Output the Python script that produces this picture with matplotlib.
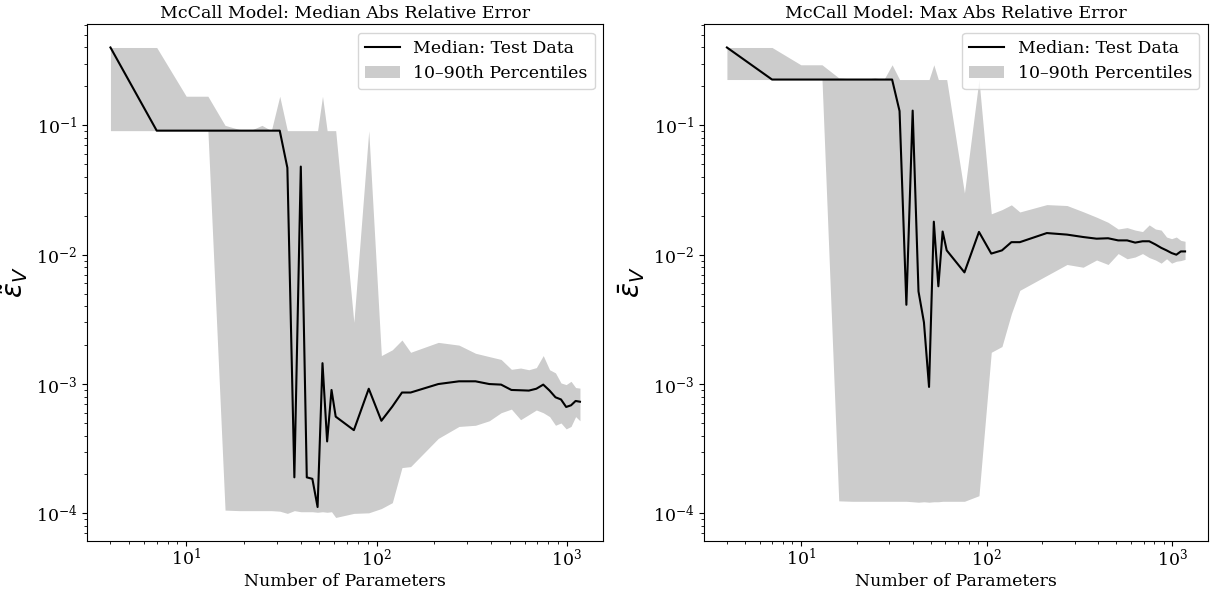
import matplotlib
matplotlib.use("Agg")
import matplotlib.pyplot as plt

plt.rcParams['font.family'] = 'DejaVu Serif'
plt.rcParams['font.size'] = 12.5

# number of parameters
n_params = [4, 7, 10, 13, 16, 19, 22, 25, 28, 31, 34, 37, 40, 43, 46, 49, 52, 55, 58, 61,
            76, 91, 106, 121, 136, 151,
            211, 271, 331, 391, 451, 511, 571, 631, 691, 751, 811, 871, 931, 991, 1051, 1111, 1171]

# median abs relative error
med_median = [0.4, 0.091, 0.091, 0.091, 0.091, 0.091, 0.091, 0.091, 0.091, 0.091,
              0.047, 1.9e-4, 0.048, 1.9e-4, 1.85e-4, 1.12e-4, 1.45e-3, 3.6e-4, 9.0e-4, 5.6e-4,
              4.4e-4, 9.2e-4, 5.2e-4, 6.7e-4, 8.6e-4, 8.6e-4,
              1.0e-3, 1.05e-3, 1.05e-3, 1.0e-3, 9.9e-4, 9.0e-4, 8.95e-4, 8.9e-4, 9.2e-4, 9.9e-4,
              8.9e-4, 7.9e-4, 7.6e-4, 6.65e-4, 6.85e-4, 7.4e-4, 7.3e-4]
med_p10 = [0.091, 0.091, 0.091, 0.091, 1.06e-4, 1.05e-4, 1.05e-4, 1.05e-4, 1.05e-4, 1.04e-4,
           1.0e-4, 1.05e-4, 1.03e-4, 1.03e-4, 1.03e-4, 1.02e-4, 1.03e-4, 1.02e-4, 1.03e-4, 9.3e-5,
           1.0e-4, 1.01e-4, 1.09e-4, 1.21e-4, 2.26e-4, 2.3e-4,
           3.8e-4, 4.7e-4, 4.8e-4, 5.2e-4, 6.0e-4, 6.4e-4, 5.3e-4, 5.8e-4, 6.3e-4, 6.0e-4,
           5.6e-4, 4.8e-4, 5.0e-4, 4.5e-4, 4.7e-4, 5.6e-4, 5.2e-4]
med_p90 = [0.4, 0.4, 0.168, 0.168, 0.1, 0.093, 0.092, 0.1, 0.091, 0.168,
           0.091, 0.091, 0.091, 0.091, 0.091, 0.091, 0.168, 0.091, 0.091, 0.091,
           3.0e-3, 0.091, 1.66e-3, 1.84e-3, 2.19e-3, 1.76e-3,
           2.1e-3, 2.0e-3, 1.73e-3, 1.63e-3, 1.55e-3, 1.3e-3, 1.33e-3, 1.29e-3, 1.34e-3, 1.66e-3,
           1.29e-3, 1.22e-3, 1.02e-3, 9.9e-4, 1.05e-3, 9.4e-4, 9.3e-4]

# max abs relative error
max_median = [0.4, 0.226, 0.226, 0.226, 0.226, 0.226, 0.226, 0.226, 0.226, 0.226,
              0.129, 4.1e-3, 0.13, 5.2e-3, 3.0e-3, 9.5e-4, 0.018, 5.7e-3, 0.0151, 0.0108,
              7.3e-3, 0.015, 0.0102, 0.0108, 0.0125, 0.0125,
              0.0147, 0.0143, 0.0137, 0.0133, 0.0134, 0.0129, 0.0129, 0.0124, 0.0127, 0.0127,
              0.012, 0.0113, 0.0108, 0.0103, 0.0100, 0.0106, 0.0106]
max_p10 = [0.226, 0.226, 0.226, 0.226, 1.25e-4, 1.24e-4, 1.24e-4, 1.24e-4, 1.24e-4, 1.24e-4,
           1.24e-4, 1.24e-4, 1.23e-4, 1.22e-4, 1.23e-4, 1.22e-4, 1.23e-4, 1.23e-4, 1.24e-4, 1.24e-4,
           1.24e-4, 1.37e-4, 1.76e-3, 1.95e-3, 3.5e-3, 5.3e-3,
           6.9e-3, 8.4e-3, 8.0e-3, 9.1e-3, 8.4e-3, 1.02e-2, 9.3e-3, 9.6e-3, 1.02e-2, 9.5e-3,
           9.1e-3, 8.6e-3, 9.3e-3, 8.6e-3, 8.9e-3, 9.0e-3, 9.2e-3]
max_p90 = [0.4, 0.4, 0.294, 0.294, 0.233, 0.228, 0.226, 0.233, 0.226, 0.294,
           0.226, 0.226, 0.226, 0.226, 0.226, 0.226, 0.294, 0.226, 0.226, 0.226,
           0.030, 0.226, 0.0207, 0.0223, 0.0243, 0.0214,
           0.0244, 0.024, 0.0215, 0.0195, 0.0178, 0.0158, 0.0162, 0.0155, 0.0151, 0.017,
           0.0158, 0.0155, 0.0137, 0.0133, 0.0137, 0.0129, 0.0127]

fig = plt.figure(figsize=(12.25, 5.92), dpi=100)
ax1 = fig.add_axes([0.0710, 0.0862, 0.4216, 0.8733])
ax2 = fig.add_axes([0.5747, 0.0862, 0.4114, 0.8733])

panels = [
    (ax1, med_median, med_p10, med_p90, "McCall Model: Median Abs Relative Error", r"$\tilde{\varepsilon}_V$"),
    (ax2, max_median, max_p10, max_p90, "McCall Model: Max Abs Relative Error", r"$\bar{\varepsilon}_V$"),
]

for ax, med, lo, hi, title, ylab in panels:
    ax.plot(n_params, med, color="k", lw=1.5, label="Median: Test Data")
    ax.fill_between(n_params, lo, hi, color="k", alpha=0.2, lw=0, label="10\u201390th Percentiles")
    ax.set_xscale("log")
    ax.set_yscale("log")
    ax.set_title(title, fontsize=12.5, pad=4)
    ax.set_xlabel("Number of Parameters", fontsize=12.5, labelpad=2)
    ax.set_ylabel(ylab, fontsize=20)
    ax.tick_params(axis="x", which="major", pad=1.5)
    ax.legend(loc="upper right", fontsize=12.5)

ax2.set_ylim(ax1.get_ylim())

plt.savefig("out.png", dpi=100)
